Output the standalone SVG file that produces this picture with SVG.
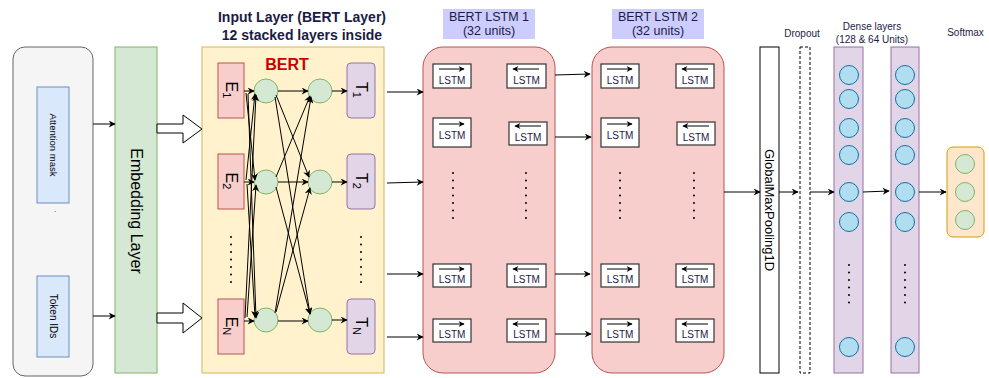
<svg xmlns="http://www.w3.org/2000/svg" width="989" height="378" viewBox="0 0 989 378">
  <style>
    .lbl { font-family: "Liberation Sans", Arial, sans-serif; fill: #1b1b45; }
    .edge { stroke: #000; stroke-width: 1; fill: none; marker-end: url(#arr); }
    .lstm { fill: #fff; stroke: #333; stroke-width: 1.2; }
    .lstmtxt { font-family: "Liberation Sans", Arial, sans-serif; font-size: 10px; fill: #1b1b45; text-anchor: middle; }
    .dots { stroke: #000; stroke-width: 2; stroke-linecap: round; stroke-dasharray: 0 7.5; fill: none; }
    .emb { fill: #f8cecc; stroke: #b85450; }
    .tok { fill: #e1d5e7; stroke: #9673a6; }
    .gc { fill: #d5e8d4; stroke: #82b366; }
    .bc { fill: #b1ddf0; stroke: #10739e; }
    .rot { font-family: "Liberation Sans", Arial, sans-serif; fill: #000; text-anchor: middle; dominant-baseline: central; }
  </style>
  <defs>
    <marker id="arr" viewBox="0 0 10 10" refX="9" refY="5" markerWidth="8" markerHeight="7" markerUnits="userSpaceOnUse" orient="auto">
      <path d="M0,0 L10,5 L0,10 L3,5 z" fill="#000"/>
    </marker>
    <marker id="arrs" viewBox="0 0 10 10" refX="9" refY="5" markerWidth="7" markerHeight="6" markerUnits="userSpaceOnUse" orient="auto">
      <path d="M0,0 L10,5 L0,10 L3,5 z" fill="#000"/>
    </marker>
  </defs>

  <!-- Inputs -->
  <g id="inputs">
    <rect x="13" y="47" width="80" height="329" rx="12" fill="#f5f5f5" stroke="#666"/>
  </g>
  <g id="attention-mask">
    <rect x="37" y="87" width="32" height="116" fill="#dae8fc" stroke="#6c8ebf"/>
    <text class="rot" font-size="9.5" transform="translate(53,145) rotate(90)">Attention mask</text>
  </g>
  <text class="lbl" x="54" y="212" font-size="8">.</text>
  <g id="token-ids">
    <rect x="37" y="276" width="32" height="81" fill="#dae8fc" stroke="#6c8ebf"/>
    <text class="rot" font-size="10" transform="translate(53,316) rotate(90)">Token IDs</text>
  </g>

  <!-- Embedding -->
  <g id="embedding-layer">
    <rect x="115" y="47" width="42" height="326" fill="#d5e8d4" stroke="#82b366"/>
    <text class="rot" font-size="16" transform="translate(136,211) rotate(90)">Embedding Layer</text>
  </g>

  <!-- BERT block -->
  <g id="bert">
    <rect x="202" y="47" width="182" height="326" fill="#fff2cc" stroke="#d6b656"/>
    <text class="lbl" x="302" y="22" font-size="14" font-weight="bold" text-anchor="middle">Input Layer (BERT Layer)</text>
    <text class="lbl" x="302" y="40" font-size="14" font-weight="bold" text-anchor="middle">12 stacked layers inside</text>
    <text x="287" y="70" font-family="Liberation Sans, Arial, sans-serif" font-size="16" font-weight="bold" fill="#cc0000" text-anchor="middle">BERT</text>
  </g>
  <g id="e1"><rect class="emb" x="218" y="63" width="26" height="55"/>
    <text class="rot" font-size="16" transform="translate(231,90) rotate(90)">E<tspan font-size="11" dy="4">1</tspan></text></g>
  <g id="e2"><rect class="emb" x="218" y="154" width="26" height="55"/>
    <text class="rot" font-size="16" transform="translate(231,181) rotate(90)">E<tspan font-size="11" dy="4">2</tspan></text></g>
  <g id="en"><rect class="emb" x="218" y="299" width="26" height="55"/>
    <text class="rot" font-size="16" transform="translate(231,326) rotate(90)">E<tspan font-size="11" dy="4">N</tspan></text></g>
  <line class="dots" x1="231" y1="237" x2="231" y2="284"/>

  <g id="h1a"><circle class="gc" cx="266" cy="91" r="12"/></g>
  <g id="h1b"><circle class="gc" cx="266" cy="182" r="12"/></g>
  <g id="h1n"><circle class="gc" cx="266" cy="320" r="12"/></g>
  <g id="h2a"><circle class="gc" cx="320" cy="91" r="12"/></g>
  <g id="h2b"><circle class="gc" cx="320" cy="182" r="12"/></g>
  <g id="h2n"><circle class="gc" cx="320" cy="320" r="12"/></g>

  <g id="t1"><rect class="tok" x="347" y="63" width="28" height="55" rx="4"/>
    <text class="rot" font-size="16" transform="translate(361,90) rotate(90)">T<tspan font-size="11" dy="4">1</tspan></text></g>
  <g id="t2"><rect class="tok" x="347" y="154" width="28" height="55" rx="4"/>
    <text class="rot" font-size="16" transform="translate(361,181) rotate(90)">T<tspan font-size="11" dy="4">2</tspan></text></g>
  <g id="tn"><rect class="tok" x="347" y="299" width="28" height="55" rx="4"/>
    <text class="rot" font-size="16" transform="translate(361,326) rotate(90)">T<tspan font-size="11" dy="4">N</tspan></text></g>
  <line class="dots" x1="361" y1="237" x2="361" y2="284"/>

  <!-- BiLSTM 1 -->
  <g id="lstm1">
    <rect x="443" y="9" width="92" height="30" fill="#ccccff"/>
    <text class="lbl" x="489" y="21" font-size="12.5" text-anchor="middle">BERT LSTM 1</text>
    <text class="lbl" x="489" y="35" font-size="12.5" text-anchor="middle">(32 units)</text>
    <rect x="423" y="47" width="132" height="326" rx="20" fill="#f8cecc" stroke="#b85450"/>
  </g>
  <!-- BiLSTM 2 -->
  <g id="lstm2">
    <rect x="612" y="9" width="92" height="30" fill="#ccccff"/>
    <text class="lbl" x="658" y="21" font-size="12.5" text-anchor="middle">BERT LSTM 2</text>
    <text class="lbl" x="658" y="35" font-size="12.5" text-anchor="middle">(32 units)</text>
    <rect x="592" y="47" width="132" height="326" rx="20" fill="#f8cecc" stroke="#b85450"/>
  </g>

  <!-- LSTM cells: forward (arrow right) and backward (arrow left) -->
  <g id="lstm-cells">
    <g id="f1a"><rect class="lstm" x="433" y="64" width="38" height="24"/><line x1="439" y1="69" x2="464" y2="69" stroke="#000" marker-end="url(#arrs)"/><text class="lstmtxt" x="452" y="84">LSTM</text></g>
    <g id="b1a"><rect class="lstm" x="507" y="64" width="39" height="24"/><line x1="539" y1="69" x2="513" y2="69" stroke="#000" marker-end="url(#arrs)"/><text class="lstmtxt" x="526.5" y="84">LSTM</text></g>
    <g id="f1b"><rect class="lstm" x="433" y="118" width="38" height="29"/><line x1="439" y1="124" x2="464" y2="124" stroke="#000" marker-end="url(#arrs)"/><text class="lstmtxt" x="452" y="139">LSTM</text></g>
    <g id="b1b"><rect class="lstm" x="509" y="122" width="38" height="23"/><line x1="541" y1="126" x2="515" y2="126" stroke="#000" marker-end="url(#arrs)"/><text class="lstmtxt" x="528" y="141">LSTM</text></g>
    <g id="f1c"><rect class="lstm" x="433" y="264" width="38" height="23"/><line x1="439" y1="269" x2="464" y2="269" stroke="#000" marker-end="url(#arrs)"/><text class="lstmtxt" x="452" y="283">LSTM</text></g>
    <g id="b1c"><rect class="lstm" x="507" y="264" width="39" height="23"/><line x1="539" y1="269" x2="513" y2="269" stroke="#000" marker-end="url(#arrs)"/><text class="lstmtxt" x="526.5" y="283">LSTM</text></g>
    <g id="f1d"><rect class="lstm" x="433" y="319" width="38" height="23"/><line x1="439" y1="324" x2="464" y2="324" stroke="#000" marker-end="url(#arrs)"/><text class="lstmtxt" x="452" y="338">LSTM</text></g>
    <g id="b1d"><rect class="lstm" x="507" y="319" width="39" height="23"/><line x1="539" y1="324" x2="513" y2="324" stroke="#000" marker-end="url(#arrs)"/><text class="lstmtxt" x="526.5" y="338">LSTM</text></g>

    <g id="f2a"><rect class="lstm" x="601" y="64" width="38" height="24"/><line x1="607" y1="69" x2="632" y2="69" stroke="#000" marker-end="url(#arrs)"/><text class="lstmtxt" x="620" y="84">LSTM</text></g>
    <g id="b2a"><rect class="lstm" x="676" y="64" width="38" height="24"/><line x1="708" y1="69" x2="682" y2="69" stroke="#000" marker-end="url(#arrs)"/><text class="lstmtxt" x="695" y="84">LSTM</text></g>
    <g id="f2b"><rect class="lstm" x="601" y="118" width="38" height="29"/><line x1="607" y1="124" x2="632" y2="124" stroke="#000" marker-end="url(#arrs)"/><text class="lstmtxt" x="620" y="139">LSTM</text></g>
    <g id="b2b"><rect class="lstm" x="677" y="122" width="38" height="23"/><line x1="709" y1="126" x2="683" y2="126" stroke="#000" marker-end="url(#arrs)"/><text class="lstmtxt" x="696" y="141">LSTM</text></g>
    <g id="f2c"><rect class="lstm" x="601" y="264" width="38" height="23"/><line x1="607" y1="269" x2="632" y2="269" stroke="#000" marker-end="url(#arrs)"/><text class="lstmtxt" x="620" y="283">LSTM</text></g>
    <g id="b2c"><rect class="lstm" x="676" y="264" width="38" height="23"/><line x1="708" y1="269" x2="682" y2="269" stroke="#000" marker-end="url(#arrs)"/><text class="lstmtxt" x="695" y="283">LSTM</text></g>
    <g id="f2d"><rect class="lstm" x="601" y="319" width="38" height="23"/><line x1="607" y1="324" x2="632" y2="324" stroke="#000" marker-end="url(#arrs)"/><text class="lstmtxt" x="620" y="338">LSTM</text></g>
    <g id="b2d"><rect class="lstm" x="676" y="319" width="38" height="23"/><line x1="708" y1="324" x2="682" y2="324" stroke="#000" marker-end="url(#arrs)"/><text class="lstmtxt" x="695" y="338">LSTM</text></g>
  </g>
  <line class="dots" x1="453" y1="173" x2="453" y2="219"/>
  <line class="dots" x1="526" y1="173" x2="526" y2="219"/>
  <line class="dots" x1="620" y1="173" x2="620" y2="219"/>
  <line class="dots" x1="694" y1="173" x2="694" y2="219"/>

  <!-- Pooling, dropout, dense, softmax -->
  <g id="global-max-pooling">
    <rect x="760" y="47" width="19" height="326" fill="#fff" stroke="#000"/>
    <text class="rot" font-size="13" transform="translate(769.5,210) rotate(90)">GlobalMaxPooling1D</text>
  </g>
  <g id="dropout">
    <text class="lbl" x="802" y="37" font-size="10" text-anchor="middle">Dropout</text>
    <rect x="800" y="47" width="10" height="326" fill="#fff" stroke="#000" stroke-dasharray="3 2"/>
  </g>
  <text class="lbl" x="872" y="30" font-size="10" text-anchor="middle">Dense layers</text>
  <text class="lbl" x="872" y="43" font-size="10" text-anchor="middle">(128 &amp; 64 Units)</text>
  <g id="dense-128">
    <rect x="834" y="47" width="29" height="326" fill="#e1d5e7" stroke="#9673a6"/>
    <circle class="bc" cx="849" cy="75" r="9.5"/>
    <circle class="bc" cx="849" cy="99" r="9.5"/>
    <circle class="bc" cx="849" cy="128" r="9.5"/>
    <circle class="bc" cx="849" cy="155" r="9.5"/>
    <circle class="bc" cx="849" cy="192" r="9.5"/>
    <circle class="bc" cx="849" cy="222" r="9.5"/>
    <circle class="bc" cx="849" cy="347" r="9.5"/>
    <line class="dots" x1="849" y1="265" x2="849" y2="310"/>
  </g>
  <g id="dense-64">
    <rect x="891" y="47" width="28" height="326" fill="#e1d5e7" stroke="#9673a6"/>
    <circle class="bc" cx="905" cy="75" r="9.5"/>
    <circle class="bc" cx="905" cy="99" r="9.5"/>
    <circle class="bc" cx="905" cy="128" r="9.5"/>
    <circle class="bc" cx="905" cy="155" r="9.5"/>
    <circle class="bc" cx="905" cy="192" r="9.5"/>
    <circle class="bc" cx="905" cy="222" r="9.5"/>
    <circle class="bc" cx="905" cy="347" r="9.5"/>
    <line class="dots" x1="905" y1="265" x2="905" y2="310"/>
  </g>
  <g id="softmax">
    <text class="lbl" x="965.5" y="36" font-size="10" text-anchor="middle">Softmax</text>
    <rect x="947" y="147" width="37" height="90" rx="6" fill="#ffe6cc" stroke="#d79b00"/>
    <circle class="gc" cx="965" cy="164" r="9.5"/>
    <circle class="gc" cx="965" cy="192" r="9.5"/>
    <circle class="gc" cx="965" cy="220" r="9.5"/>
  </g>

  <!-- Connectors -->
  <g id="connectors">
    <line class="edge" x1="93" y1="124" x2="115" y2="124"/>
    <line class="edge" x1="93" y1="316" x2="115" y2="316"/>
    <polygon points="157,124 183,124 183,115 202,129 183,143 183,133 157,133" fill="#fff" stroke="#000"/>
    <polygon points="157,313 183,313 183,303 202,318 183,333 183,323 157,323" fill="#fff" stroke="#000"/>

    <!-- embeddings to first hidden column -->
    <line class="edge" x1="244" y1="91" x2="254" y2="91"/>
    <line class="edge" x1="246" y1="93" x2="255" y2="180"/>
    <line class="edge" x1="248" y1="94" x2="256" y2="318"/>
    <line class="edge" x1="246" y1="180" x2="255" y2="94"/>
    <line class="edge" x1="244" y1="182" x2="254" y2="182"/>
    <line class="edge" x1="247" y1="184" x2="255" y2="317"/>
    <line class="edge" x1="245" y1="318" x2="256" y2="95"/>
    <line class="edge" x1="247" y1="317" x2="256" y2="185"/>
    <line class="edge" x1="244" y1="321" x2="254" y2="321"/>

    <!-- first hidden column to second hidden column -->
    <line class="edge" x1="278" y1="91" x2="308" y2="91"/>
    <line class="edge" x1="276" y1="95" x2="309" y2="177"/>
    <line class="edge" x1="275" y1="97" x2="310" y2="314"/>
    <line class="edge" x1="276" y1="177" x2="310" y2="96"/>
    <line class="edge" x1="278" y1="182" x2="308" y2="182"/>
    <line class="edge" x1="276" y1="187" x2="310" y2="314"/>
    <line class="edge" x1="275" y1="313" x2="311" y2="97"/>
    <line class="edge" x1="276" y1="312" x2="310" y2="188"/>
    <line class="edge" x1="278" y1="321" x2="308" y2="321"/>

    <!-- second hidden column to outputs -->
    <line class="edge" x1="332" y1="91" x2="347" y2="91"/>
    <line class="edge" x1="332" y1="182" x2="347" y2="182"/>
    <line class="edge" x1="332" y1="320" x2="347" y2="320"/>

    <!-- BERT outputs to BiLSTM 1 -->
    <line class="edge" x1="387" y1="92" x2="423" y2="92"/>
    <line class="edge" x1="387" y1="183" x2="423" y2="182"/>
    <line class="edge" x1="387" y1="274" x2="423" y2="274"/>
    <line class="edge" x1="387" y1="337" x2="423" y2="337"/>

    <!-- BiLSTM 1 to BiLSTM 2 -->
    <line class="edge" x1="555" y1="75" x2="590" y2="74"/>
    <line class="edge" x1="555" y1="137" x2="591" y2="137"/>
    <line class="edge" x1="555" y1="274" x2="590" y2="274"/>
    <line class="edge" x1="555" y1="334" x2="591" y2="334"/>

    <!-- head -->
    <line class="edge" x1="724" y1="192" x2="760" y2="192"/>
    <line class="edge" x1="779" y1="192" x2="798" y2="192"/>
    <line class="edge" x1="810" y1="192" x2="834" y2="192"/>
    <line class="edge" x1="863" y1="192" x2="889" y2="191"/>
    <line class="edge" x1="919" y1="192" x2="946" y2="192"/>
  </g>
</svg>
